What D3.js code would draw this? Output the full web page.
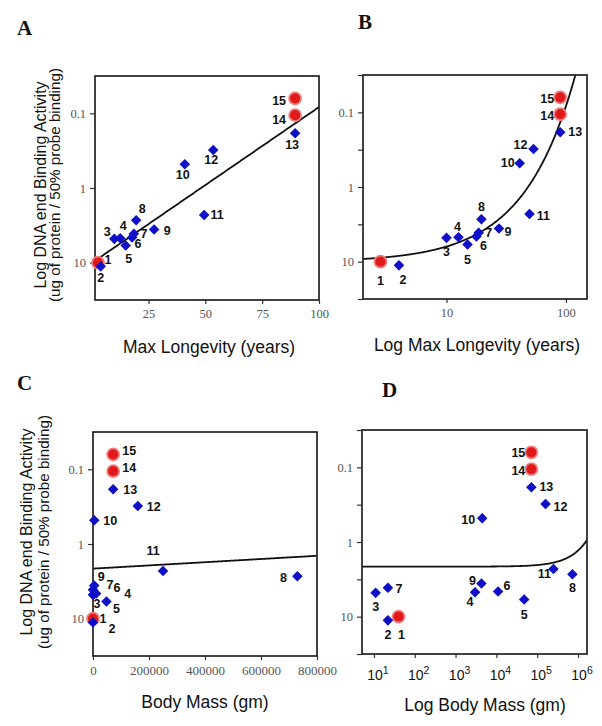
<!DOCTYPE html>
<html><head><meta charset="utf-8">
<script src="https://cdn.jsdelivr.net/npm/d3@7"></script>
<style>body{margin:0;background:#fff;} svg{display:block;}</style>
</head><body>
<svg id="chart" width="602" height="726"></svg>
<script>
// ---------------- data ----------------
const speciesIds = ["1","2","3","4","5","6","7","8","9","10","11","12","13","14","15"];
const maxLongevity = [2.8, 4, 10, 12.6, 15, 17.8, 18.6, 19.6, 27.5, 41, 49.5, 53.5, 89.5, 89.5, 89.5];
const bodyMass = [40, 22, 11, 3000, 48000, 11000, 22, 730000, 4300, 4500, 250000, 160000, 72000, 72000, 72000];
const bindingActivity = [10, 11.2, 4.8, 4.7, 5.9, 4.6, 4.1, 2.7, 3.6, 0.48, 2.3, 0.31, 0.185, 0.106, 0.063];
const redSpecies = ["1", "14", "15"];
const longevityFit = [1.006, -0.0209];   // log10(activity) = a + b * longevity
const massFit = [0.33, -2.15e-7];        // log10(activity) = a + b * mass
const yTickValues = [0.1, 1, 10];
const yTickLabels = ["0.1", "1", "10"];
const longevityTicks = [25, 50, 75, 100];
const logLongevityTicks = [10, 100];
const massTicks = [0, 200000, 400000, 600000, 800000];
const logMassTicks = [1e1, 1e2, 1e3, 1e4, 1e5, 1e6];

// ---------------- layout ----------------
const labelOffsets = {
  A: {1:[10,-3],2:[0,12],3:[-7,-7],4:[3,-12],5:[3,13],6:[6,7],7:[10,0],8:[6,-11],9:[13,1],10:[-2,11],11:[13,0],12:[-2,10],13:[-3,12],14:[-16,5],15:[-16,3]},
  B: {1:[0,19],2:[4,15],3:[0,14],4:[-1,-10],5:[0,15],6:[7,10],7:[10,0],8:[0,-12],9:[9,3],10:[-12,0],11:[14,2],12:[-13,-4],13:[15,0],14:[-13,2],15:[-13,2]},
  C: {1:[10,0],2:[19,7],3:[4,9],4:[34,0],5:[10,7],6:[21,-5],7:[17,-5],8:[-14,2],9:[7,-9],10:[16,1],11:[-10,-20],12:[16,1],13:[17,1],14:[16,-3],15:[16,-3]},
  D: {1:[3,18],2:[0,15],3:[0,14],4:[-5,10],5:[0,15],6:[9,-5],7:[11,1],8:[0,14],9:[-9,-3],10:[-14,2],11:[-9,5],12:[15,3],13:[15,0],14:[-13,2],15:[-13,1]}
};

const panels = [
  {key:"A", x:95, y:76, w:224, h:224, log:false, dom:[1.5,100], xs:maxLongevity, ticks:longevityTicks,
   fmt:d=>String(d), minor:false, fit:longevityFit, title:"Max Longevity (years)", tx:209, ty:353,
   lx:17, ly:35, yt:[40,54], ytY:185},
  {key:"B", x:363, y:75, w:224, h:224, log:true, dom:[2,150], xs:maxLongevity, ticks:logLongevityTicks,
   fmt:d=>String(d), minor:true, fit:longevityFit, title:"Log Max Longevity (years)", tx:477, ty:351,
   lx:358, ly:29, yt:null},
  {key:"C", x:93, y:432, w:224, h:224, log:false, dom:[0,800000], xs:bodyMass, ticks:massTicks,
   fmt:d=>String(d), minor:false, fit:massFit, title:"Body Mass (gm)", tx:205, ty:708,
   lx:17, ly:390, yt:[26,43], ytY:532},
  {key:"D", x:362, y:430, w:225, h:224, log:true, dom:[5.1,1.66e6], xs:bodyMass, ticks:logMassTicks,
   fmt:null, minor:true, fit:massFit, title:"Log Body Mass (gm)", tx:485, ty:711,
   lx:382, ly:397, yt:null}
];

const svg = d3.select("#chart");
const defs = svg.append("defs");
const blue = "#0f0fc8";

panels.forEach(p => {
  const g = svg.append("g");
  const xs = (p.log ? d3.scaleLog() : d3.scaleLinear()).domain(p.dom).range([p.x, p.x + p.w]);
  const ys = d3.scaleLog().domain([Math.pow(10,-1.5), Math.pow(10,1.5)]).range([p.y, p.y + p.h]);

  defs.append("clipPath").attr("id","clip"+p.key).append("rect")
    .attr("x",p.x).attr("y",p.y).attr("width",p.w).attr("height",p.h);

  // y axis ticks
  const yAx = g.append("g").attr("transform",`translate(${p.x},0)`)
    .call(d3.axisLeft(ys).tickValues(yTickValues).tickSize(5).tickPadding(4)
      .tickFormat((d,i)=>yTickLabels[i]));
  yAx.select(".domain").remove();
  yAx.selectAll("text").attr("font-family","'Liberation Serif','Times New Roman',serif")
    .attr("font-size",12.5).attr("fill","#555");
  yAx.selectAll("line").attr("stroke","#333").attr("stroke-width",1.2);
  if (p.minor) {
    const mv = [-1.5,-0.5,0.5,1.5].map(e=>Math.pow(10,e));
    const m = g.append("g").attr("transform",`translate(${p.x},0)`)
      .call(d3.axisLeft(ys).tickValues(mv).tickSize(5).tickFormat(""));
    m.select(".domain").remove();
    m.selectAll("line").attr("stroke","#333").attr("stroke-width",1.2);
  }

  // x axis
  const xAxis = d3.axisBottom(xs).tickValues(p.ticks).tickSize(4).tickSizeOuter(0);
  if (p.fmt) xAxis.tickFormat(p.fmt); else xAxis.tickFormat("");
  const xAx = g.append("g").attr("transform",`translate(0,${p.y+p.h})`).call(xAxis);
  xAx.select(".domain").remove();
  xAx.selectAll("line").attr("stroke","#333").attr("stroke-width",1.2);
  if (p.fmt) {
    xAx.selectAll("text").attr("font-family","'Liberation Serif','Times New Roman',serif")
      .attr("font-size", p.key==="C" ? 13 : 12.5).attr("fill","#555").attr("dy","0.9em");
  } else {
    p.ticks.forEach(t => {
      const e = Math.round(Math.log10(t));
      const tx = g.append("text").attr("x", xs(t)+4).attr("y", p.y+p.h+26)
        .attr("text-anchor","middle").attr("font-family","'Liberation Sans',Arial,sans-serif")
        .attr("font-size",14).attr("fill","#111");
      tx.append("tspan").text("10");
      tx.append("tspan").attr("dy",-6).attr("font-size",10.5).text(String(e));
    });
  }

  // fit line
  const n = 300;
  const pts = d3.range(n+1).map(i => {
    let xv;
    if (p.log) { const l0=Math.log10(p.dom[0]), l1=Math.log10(p.dom[1]); xv = Math.pow(10, l0+(l1-l0)*i/n); }
    else xv = p.dom[0] + (p.dom[1]-p.dom[0])*i/n;
    return [xs(xv), ys(Math.pow(10, p.fit[0] + p.fit[1]*xv))];
  });
  g.append("path").attr("d", d3.line()(pts)).attr("fill","none").attr("stroke","#111")
    .attr("stroke-width",1.8).attr("clip-path",`url(#clip${p.key})`);

  // box
  g.append("rect").attr("x",p.x).attr("y",p.y).attr("width",p.w).attr("height",p.h)
    .attr("fill","none").attr("stroke","#222").attr("stroke-width",1.7);

  // points
  const data = speciesIds.map((id,i)=>({id, xv:p.xs[i], yv:bindingActivity[i], red:redSpecies.includes(id)}));
  const red = data.filter(d=>d.red), blu = data.filter(d=>!d.red);
  g.selectAll("circle.r").data(red).join("circle")
    .attr("cx",d=>xs(d.xv)).attr("cy",d=>ys(d.yv)).attr("r",6)
    .attr("fill","#e01a1a").attr("stroke","#f08080").attr("stroke-width",1.8);
  const sym = d3.symbol().type(d3.symbolSquare).size(56);
  g.selectAll("path.b").data(blu).join("path")
    .attr("d", sym())
    .attr("transform",d=>`translate(${xs(d.xv)},${ys(d.yv)}) rotate(45)`)
    .attr("fill",blue);

  // labels
  g.selectAll("text.lab").data(data).join("text")
    .attr("x",d=>xs(d.xv)+labelOffsets[p.key][d.id][0])
    .attr("y",d=>ys(d.yv)+labelOffsets[p.key][d.id][1])
    .attr("text-anchor","middle").attr("dominant-baseline","central")
    .attr("font-family","'Liberation Sans',Arial,sans-serif").attr("font-weight","bold")
    .attr("font-size",12.5).attr("fill","#111").text(d=>d.id);

  // x title
  g.append("text").attr("x",p.tx).attr("y",p.ty).attr("text-anchor","middle")
    .attr("font-family","'Liberation Sans',Arial,sans-serif").attr("font-size",17.5).attr("fill","#111")
    .text(p.title);

  // panel letter
  g.append("text").attr("x",p.lx).attr("y",p.ly)
    .attr("font-family","'Liberation Serif','Times New Roman',serif").attr("font-weight","bold")
    .attr("font-size",21).attr("fill","#111").text(p.key);

  // y title
  if (p.yt) {
    const lines = ["Log DNA end Binding Activity", "(ug of protein / 50% probe binding)"];
    lines.forEach((t,i)=>{
      g.append("text").attr("transform",`translate(${p.yt[i]},${p.ytY}) rotate(-90)`)
        .attr("text-anchor","middle").attr("dominant-baseline","central")
        .attr("font-family","'Liberation Sans',Arial,sans-serif")
        .attr("font-size", i===0 ? 16 : 15.2).attr("fill","#111").text(t);
    });
  }
});
</script>
</body></html>
